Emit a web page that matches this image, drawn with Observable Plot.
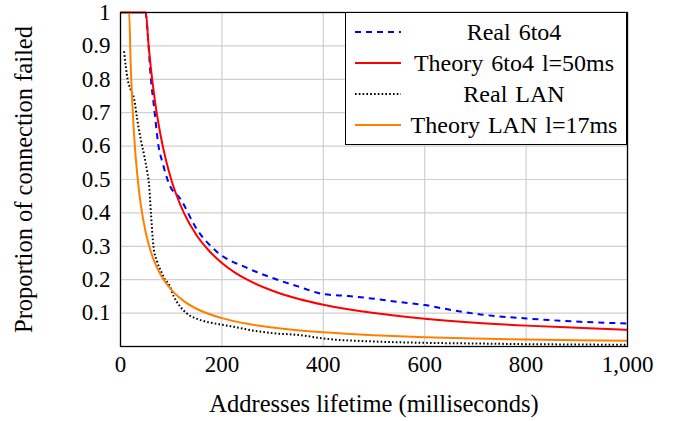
<!DOCTYPE html>
<html>
<head>
<meta charset="utf-8">
<script src="https://cdn.jsdelivr.net/npm/d3@7"></script>
<script src="https://cdn.jsdelivr.net/npm/@observablehq/plot@0.6"></script>
<style>
  html, body { margin: 0; padding: 0; background: #fff; }
  #wrap { position: relative; width: 681px; height: 421px; }
  #legend {
    position: absolute; left: 345px; top: 12px; width: 282px; height: 133px;
    border: 1.2px solid #000; background: #fff; box-sizing: border-box;
    font-family: "Liberation Serif", serif; font-size: 24px; color: #000;
  }
  .row { position: absolute; left: 0; width: 100%; height: 31px; }
  .row svg { position: absolute; left: 9px; top: 10px; }
  .row span { position: absolute; left: 56px; right: 0; top: 0; line-height: 31px; text-align: center; white-space: pre; word-spacing: 2px; }
</style>
</head>
<body>
<div id="wrap"></div>
<script>
// ---- data ----
const xTicks = [0, 200, 400, 600, 800, 1000];
const yTicks = [0.1, 0.2, 0.3, 0.4, 0.5, 0.6, 0.7, 0.8, 0.9, 1];

const seriesNames = ["Real 6to4", "Theory 6to4 l=50ms", "Real LAN", "Theory LAN l=17ms"];

const real6to4X = [50, 53, 60, 66, 75, 83, 95, 119, 151, 190, 250, 300, 350, 400, 450, 500, 550, 600, 650, 710, 800, 907, 1000];
const real6to4Y = [1, 0.95, 0.80, 0.72, 0.60, 0.55, 0.49, 0.44, 0.35, 0.284, 0.235, 0.205, 0.18, 0.157, 0.151, 0.143, 0.133, 0.124, 0.11, 0.096, 0.084, 0.074, 0.069];

const theory6to4X = [0, 50, 55, 60, 65, 70, 75, 80, 90, 100, 110, 125, 150, 175, 200, 225, 250, 300, 350, 400, 500, 600, 700, 800, 900, 1000];
const theory6to4Y = [1, 1, 0.909, 0.833, 0.769, 0.714, 0.667, 0.625, 0.556, 0.5, 0.455, 0.4, 0.333, 0.286, 0.25, 0.222, 0.2, 0.167, 0.143, 0.125, 0.1, 0.083, 0.071, 0.0625, 0.056, 0.05];

const realLanX = [7, 14, 20, 27, 33, 40, 47, 53, 56, 60, 65, 72, 80, 88, 95, 105, 118, 130, 158, 190, 223, 260, 300, 355, 400, 500, 600, 700, 800, 900, 1000];
const realLanY = [0.884, 0.80, 0.77, 0.74, 0.68, 0.62, 0.57, 0.52, 0.49, 0.40, 0.30, 0.255, 0.225, 0.20, 0.188, 0.15, 0.119, 0.10, 0.079, 0.068, 0.059, 0.048, 0.040, 0.034, 0.024, 0.015, 0.011, 0.009, 0.007, 0.006, 0.005];

const theoryLanX = [0, 17, 20, 25, 30, 35, 40, 50, 60, 70, 80, 100, 125, 150, 200, 250, 300, 400, 500, 600, 700, 800, 900, 1000];
const theoryLanY = [1, 1, 0.85, 0.68, 0.567, 0.486, 0.425, 0.34, 0.283, 0.243, 0.2125, 0.17, 0.136, 0.113, 0.085, 0.068, 0.057, 0.0425, 0.034, 0.028, 0.024, 0.021, 0.019, 0.017];

const colors = ["#0000ff", "#ff0000", "#000000", "#ff8000"];
const dashes = ["6,5", null, "1.6,2.2", null];

// ---- build ----
const toRows = (xs, ys) => xs.map((x, i) => ({x, y: ys[i]}));
const series = [
  toRows(real6to4X, real6to4Y),
  toRows(theory6to4X, theory6to4Y),
  toRows(realLanX, realLanY),
  toRows(theoryLanX, theoryLanY)
];

const font = "Liberation Serif";

const chart = Plot.plot({
  width: 681,
  height: 421,
  marginLeft: 120,
  marginRight: 54,
  marginTop: 12,
  marginBottom: 75,
  style: {fontFamily: font, fontSize: "23px", background: "#fff", color: "#000"},
  x: {domain: [0, 1000]},
  y: {domain: [0, 1]},
  marks: [
    Plot.ruleX(xTicks, {stroke: "#d0d0d0", strokeWidth: 1.2}),
    Plot.ruleY(yTicks, {stroke: "#d0d0d0", strokeWidth: 1.2}),
    ...series.map((d, i) => Plot.line(d, {
      x: "x", y: "y", stroke: colors[i], strokeWidth: 2,
      strokeDasharray: dashes[i], strokeLinecap: "butt", curve: "monotone-x"
    })),
    Plot.frame({stroke: "#000", strokeWidth: 1.3}),
    Plot.axisX({ticks: xTicks, tickFormat: d3.format(","), tickSize: 0, tickPadding: 9, label: null}),
    Plot.axisY({ticks: yTicks, tickFormat: d => String(+d.toFixed(1)), tickSize: 0, tickPadding: 10, label: null}),
    Plot.text(["Addresses lifetime (milliseconds)"], {frameAnchor: "bottom", dy: 58, fontSize: 24.5, lineAnchor: "middle"}),
    Plot.text(["Proportion of connection failed"], {frameAnchor: "left", rotate: -90, dx: -96, fontSize: 24.5, textAnchor: "middle", lineAnchor: "middle"})
  ]
});

const wrap = document.getElementById("wrap");
wrap.appendChild(chart);

// legend
const legend = document.createElement("div");
legend.id = "legend";
seriesNames.forEach((name, i) => {
  const row = document.createElement("div");
  row.className = "row";
  row.style.top = (4 + i * 31) + "px";
  const svg = d3.create("svg").attr("width", 46).attr("height", 10);
  svg.append("line").attr("x1", 0).attr("x2", 46).attr("y1", 5).attr("y2", 5)
    .attr("stroke", colors[i]).attr("stroke-width", 2)
    .attr("stroke-dasharray", dashes[i]);
  row.appendChild(svg.node());
  const span = document.createElement("span");
  span.textContent = name;
  row.appendChild(span);
  legend.appendChild(row);
});
wrap.appendChild(legend);
</script>
</body>
</html>
